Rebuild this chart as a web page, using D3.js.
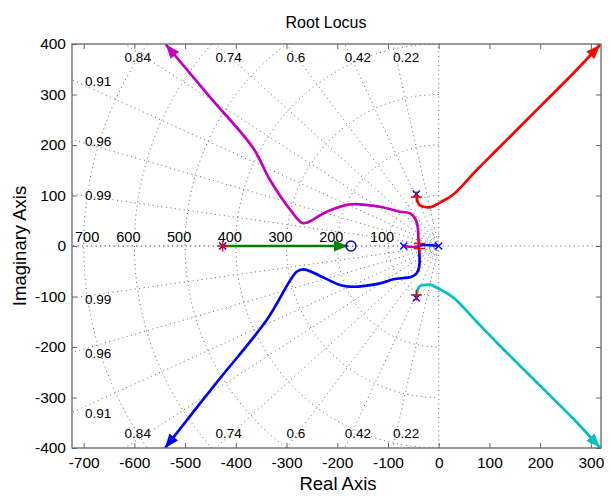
<!DOCTYPE html>
<html><head><meta charset="utf-8">
<script src="https://cdn.jsdelivr.net/npm/d3@7/dist/d3.min.js"></script>
<style>
body{margin:0;background:#fff}
svg{display:block}
text{font-family:"Liberation Sans",Arial,Helvetica,sans-serif;fill:#000}
</style>
</head><body>
<svg id="c" width="610" height="496"></svg>
<script>
// ---------- data ----------
const xTicks = [-700,-600,-500,-400,-300,-200,-100,0,100,200,300];
const yTicks = [-400,-300,-200,-100,0,100,200,300,400];
const zetaValues = [0.22,0.42,0.6,0.74,0.84,0.91,0.96,0.99];
const wnValues = [100,200,300,400,500,600,700];
const wnSmall = [16,24];
const openPoles = [[-44,103],[-44,-103],[-69,0],[0,0],[-426,0]];
const openZeros = [[-173,0]];
const closedPoles = [[-44,97],[-44,-97],[-38,5],[-38,-5],[-426,0]];
const redBranch = [[-44,103],[-42,90],[-38,81],[-30,77.8],[-17,76.6],[2.5,86],[28.8,102],[74.9,150.5],[114.3,190],[167,243],[206.2,282.5],[265.4,342],[318,398]];
const cyanBranch = [[-44,-103],[-42,-89],[-38,-80],[-30,-77.5],[-17,-76.5],[2.5,-86],[28.8,-102],[74.9,-150],[114.3,-191],[167,-244],[206.2,-283],[265.4,-342],[318,-399]];
const magentaBranch = [[-69,0],[-40,0],[-40,11.9],[-41.4,38.2],[-46.7,54.8],[-56.6,64.7],[-76.3,67.9],[-115.7,77.8],[-174.9,82.6],[-220.8,67.9],[-260.3,46.1],[-270.1,46.1],[-289.8,67.9],[-332.6,130.7],[-365.5,193.4],[-450.9,295],[-538,399]];
const blueBranch = [[0,0],[-39,0],[-38.4,-7.9],[-38.4,-41],[-43.5,-54],[-53.3,-60.8],[-89.5,-65.9],[-115.7,-73.9],[-174.9,-80.6],[-194.6,-77.2],[-266.9,-46.1],[-280,-50.9],[-339.1,-146.5],[-440,-273],[-539.6,-400]];
const greenBranch = [[-426,0],[-179,0]];
const branches = [
  {pts: redBranch, color: "#ff0000"},
  {pts: cyanBranch, color: "#00bfbf"},
  {pts: magentaBranch, color: "#bf00bf"},
  {pts: blueBranch, color: "#0000ff"},
  {pts: greenBranch, color: "#008000"}
];

// ---------- layout ----------
const L = 72, R = 601, T = 44, B = 448;
const svg = d3.select("#c");
svg.append("rect").attr("width",610).attr("height",496).attr("fill","#fff");
const x = d3.scaleLinear().domain([-723,320]).range([L,R]);
const y = d3.scaleLinear().domain([-400,400]).range([B,T]);

svg.append("defs").append("clipPath").attr("id","clip")
  .append("rect").attr("x",L).attr("y",T).attr("width",R-L).attr("height",B-T);

// ---------- grid ----------
const grid = svg.append("g").attr("clip-path","url(#clip)")
  .attr("fill","none").attr("stroke","#666").attr("stroke-width",1)
  .attr("stroke-dasharray","1,3.5");
[0,1].concat(zetaValues).forEach(z => {
  [1,-1].forEach(s => {
    grid.append("line")
      .attr("x1",x(0)).attr("y1",y(0))
      .attr("x2",x(-z*3000)).attr("y2",y(s*Math.sqrt(1-z*z)*3000));
  });
});
grid.append("line").attr("x1",x(0)).attr("y1",y(0)).attr("x2",R).attr("y2",y(0));
const arcLine = d3.line().x(d=>x(d[0])).y(d=>y(d[1]));
wnValues.concat(wnSmall).forEach(w => {
  const pts = d3.range(90,270.5,1).map(a => [w*Math.cos(a*Math.PI/180), w*Math.sin(a*Math.PI/180)]);
  grid.append("path").attr("d",arcLine(pts));
});

// grid labels
const lab = svg.append("g").style("font-size","13.5px");
zetaValues.forEach(z => {
  const s = Math.sqrt(1-z*z);
  const xTop = -400*z/s;
  if (xTop >= -723) {
    lab.append("text").attr("x",x(xTop)).attr("y",T+18).text(String(z));
    lab.append("text").attr("x",x(xTop)).attr("y",B-10).text(String(z));
  } else {
    const yl = 723*s/z;
    lab.append("text").attr("x",L+13).attr("y",y(yl)+6).text(String(z));
    lab.append("text").attr("x",L+13).attr("y",y(-yl)+6).text(String(z));
  }
});
const wlab = svg.append("g").style("font-size","14.5px");
wnValues.forEach(w => {
  const t = wlab.append("text").attr("y",y(0)-4).text(String(w));
  const wd = t.node().getComputedTextLength();
  let cx = x(-w)-6;
  if (cx - wd/2 < L+3) cx = L+3+wd/2;
  t.attr("x",cx-wd/2);
});

// ---------- axes ----------
const axG = svg.append("g");
const styleAxis = g => {
  g.select(".domain").remove();
  g.selectAll(".tick line").attr("stroke","#666");
  g.selectAll(".tick text").style("font-size","15.5px").attr("fill","#000");
};
axG.append("g").attr("transform",`translate(0,${B})`)
  .call(d3.axisBottom(x).tickValues(xTicks).tickSizeInner(-5).tickSizeOuter(0).tickPadding(9).tickFormat(d3.format("d")))
  .call(styleAxis);
axG.append("g").attr("transform",`translate(0,${T})`)
  .call(d3.axisTop(x).tickValues(xTicks).tickSizeInner(-5).tickSizeOuter(0).tickFormat(""))
  .call(styleAxis);
axG.append("g").attr("transform",`translate(${L},0)`)
  .call(d3.axisLeft(y).tickValues(yTicks).tickSizeInner(-5).tickSizeOuter(0).tickPadding(6).tickFormat(d3.format("d")))
  .call(styleAxis);
axG.append("g").attr("transform",`translate(${R},0)`)
  .call(d3.axisRight(y).tickValues(yTicks).tickSizeInner(-5).tickSizeOuter(0).tickFormat(""))
  .call(styleAxis);
svg.selectAll("text").filter(function(){return this.textContent.startsWith("−");})
  .text(function(){return "-"+this.textContent.slice(1);});

// ---------- loci ----------
const locG = svg.append("g").attr("clip-path","url(#clip)");
const line = d3.line().x(d=>x(d[0])).y(d=>y(d[1])).curve(d3.curveCatmullRom.alpha(0.5));
branches.forEach(b => {
  locG.append("path").attr("d",line(b.pts)).attr("fill","none")
    .attr("stroke",b.color).attr("stroke-width",2.7).attr("stroke-linejoin","round");
  const n = b.pts.length;
  const px1 = x(b.pts[n-2][0]), py1 = y(b.pts[n-2][1]);
  const px2 = x(b.pts[n-1][0]), py2 = y(b.pts[n-1][1]);
  const ang = Math.atan2(py2-py1, px2-px1);
  const len = 14, hw = 5.5;
  const bx = px2 - len*Math.cos(ang), by = py2 - len*Math.sin(ang);
  const pts = [[px2,py2],[bx - hw*Math.sin(ang), by + hw*Math.cos(ang)],[bx + hw*Math.sin(ang), by - hw*Math.cos(ang)]];
  svg.append("polygon").attr("points",pts.map(p=>p.join(",")).join(" ")).attr("fill",b.color);
});

// ---------- markers ----------
const mk = svg.append("g");
openZeros.forEach(p => {
  mk.append("circle").attr("cx",x(p[0])).attr("cy",y(p[1])).attr("r",5)
    .attr("fill","none").attr("stroke","#0000ff").attr("stroke-width",1.4);
});
openPoles.forEach(p => {
  const cx = x(p[0]), cy = y(p[1]), s = 3.5;
  mk.append("path").attr("d",`M${cx-s},${cy-s}L${cx+s},${cy+s}M${cx-s},${cy+s}L${cx+s},${cy-s}`)
    .attr("stroke","#0000ff").attr("stroke-width",1.4);
});
closedPoles.forEach(p => {
  const cx = x(p[0]), cy = y(p[1]), s = 5.5;
  mk.append("path").attr("d",`M${cx-s},${cy}L${cx+s},${cy}M${cx},${cy-s}L${cx},${cy+s}`)
    .attr("stroke","#ff0000").attr("stroke-width",1.4);
});

// box
svg.append("rect").attr("x",L).attr("y",T).attr("width",R-L).attr("height",B-T)
  .attr("fill","none").attr("stroke","#666").attr("stroke-width",1.3);

// ---------- titles ----------
svg.append("text").attr("x",326).attr("y",28).attr("text-anchor","middle")
  .style("font-size","16px").text("Root Locus");
svg.append("text").attr("x",338).attr("y",490).attr("text-anchor","middle")
  .style("font-size","18.5px").text("Real Axis");
svg.append("text").attr("transform",`translate(26,${(T+B)/2}) rotate(-90)`).attr("text-anchor","middle")
  .style("font-size","18.5px").text("Imaginary Axis");
</script>
</body></html>
